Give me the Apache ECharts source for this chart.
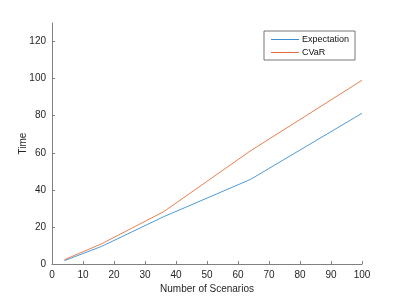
<!DOCTYPE html>
<html><head><meta charset="utf-8">
<script src="https://cdn.jsdelivr.net/npm/echarts@6/dist/echarts.min.js"></script>
<style>html,body{margin:0;padding:0;background:#fff}#c{width:399px;height:299px}</style>
</head><body><div id="c"></div>
<script>
var scenarios = [4, 16, 36, 64, 100];
var expectation = [1.8, 9.5, 25.5, 45.6, 81.3];
var cvar = [2.3, 10.9, 28.2, 61, 99.1];
var seriesNames = ['Expectation', 'CVaR'];

function pairs(xs, ys){ return xs.map(function(x,i){return [x, ys[i]];}); }

var chart = echarts.init(document.getElementById('c'), null, {renderer:'canvas'});
var font = 'Liberation Sans, Arial, sans-serif';
chart.setOption({
  animation:false,
  grid:{left:52, right:37, top:23, bottom:33},
  legend:{
    data:seriesNames, orient:'vertical', left:264, top:31,
    itemWidth:28, itemHeight:1, itemGap:4, icon:'rect',
    borderColor:'#555', borderWidth:0.8, padding:[4,6,3,7],
    textStyle:{fontFamily:font, fontSize:9, color:'#111', padding:[0,0,0,-2]},
    backgroundColor:'#fff'
  },
  xAxis:{type:'value', min:0, max:100, interval:10,
    name:'Number of Scenarios', nameLocation:'middle', nameGap:20, nameMoveOverlap:false,
    nameTextStyle:{fontFamily:font, fontSize:10, color:'#262626'},
    axisLine:{lineStyle:{color:'#808080', width:1}},
    axisTick:{inside:true, length:3, lineStyle:{color:'#808080'}},
    axisLabel:{fontFamily:font, fontSize:10, color:'#262626', margin:6},
    splitLine:{show:false}},
  yAxis:{type:'value', min:0, max:130, interval:20,
    name:'Time', nameLocation:'middle', nameGap:24, nameRotate:90, nameMoveOverlap:false,
    nameTextStyle:{fontFamily:font, fontSize:10, color:'#262626'},
    axisLine:{show:true, lineStyle:{color:'#808080', width:1}},
    axisTick:{show:true, inside:true, length:3, lineStyle:{color:'#808080'}},
    axisLabel:{fontFamily:font, fontSize:10, color:'#262626', margin:6, showMaxLabel:false},
    splitLine:{show:false}},
  series:[
    {name:seriesNames[0], type:'line', data:pairs(scenarios, expectation), showSymbol:false,
     lineStyle:{color:'#3b8fd0', width:0.9}, itemStyle:{color:'#3b8fd0'}},
    {name:seriesNames[1], type:'line', data:pairs(scenarios, cvar), showSymbol:false,
     lineStyle:{color:'#e4703f', width:0.9}, itemStyle:{color:'#e4703f'}}
  ]
});
</script></body></html>
